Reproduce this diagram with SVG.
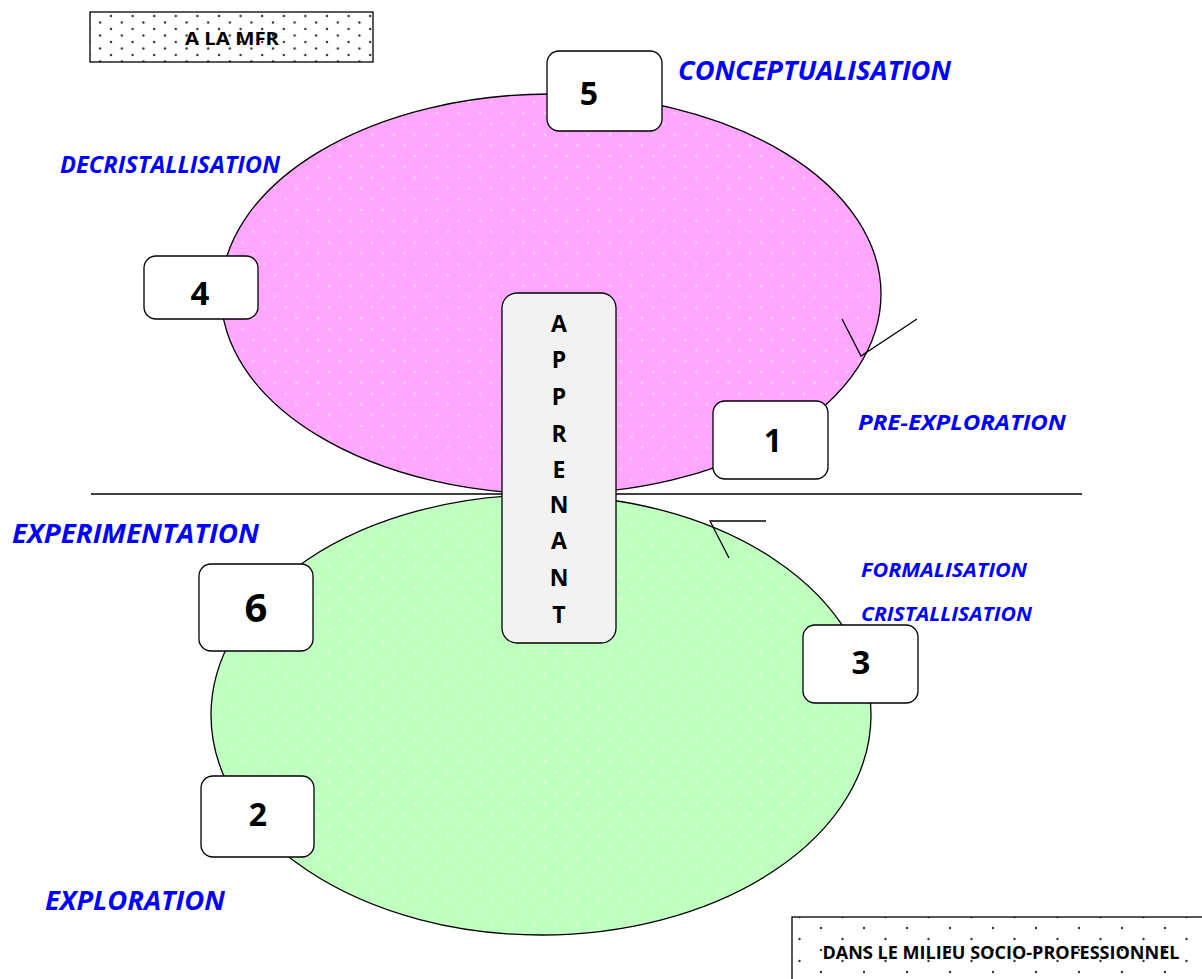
<svg xmlns="http://www.w3.org/2000/svg" width="1202" height="979" viewBox="0 0 1202 979">
<defs>
<pattern id="pinkDots" x="0" y="0" width="21.6" height="21.6" patternUnits="userSpaceOnUse">
<rect width="21.6" height="21.6" fill="#ffa6ff"/>
<circle cx="5" cy="5" r="1.3" fill="#ffd2ff"/>
<circle cx="15.8" cy="15.8" r="1.3" fill="#ffd2ff"/>
</pattern>
<pattern id="greenDots" x="0" y="0" width="21.6" height="21.6" patternUnits="userSpaceOnUse">
<rect width="21.6" height="21.6" fill="#bfffbf"/>
<circle cx="5" cy="5" r="1.3" fill="#dcffdc"/>
<circle cx="15.8" cy="15.8" r="1.3" fill="#dcffdc"/>
</pattern>
<pattern id="denseDots" x="0" y="0" width="21.6" height="13" patternUnits="userSpaceOnUse">
<rect width="21.6" height="13" fill="#ffffff"/>
<circle cx="3" cy="3" r="1.2" fill="#333"/>
<circle cx="13.8" cy="9.5" r="1.2" fill="#333"/>
</pattern>
<pattern id="sparseDots" x="0" y="0" width="43" height="22" patternUnits="userSpaceOnUse">
<rect width="43" height="22" fill="#ffffff"/>
<circle cx="4" cy="4" r="1.2" fill="#333"/>
<circle cx="25.5" cy="15" r="1.2" fill="#333"/>
</pattern>
</defs>
<style>
.lbl{font-family:"Open Sans","Noto Sans",sans-serif;font-weight:bold;font-style:italic;fill:#0000ff}
.num{font-family:"Open Sans","Noto Sans",sans-serif;font-weight:bold;fill:#000;text-anchor:middle}
.box{fill:#fff;stroke:#000;stroke-width:1.3}
.ln{fill:none;stroke:#000;stroke-width:1.3}
.tag{font-family:"Open Sans","Noto Sans",sans-serif;font-weight:bold;fill:#000;text-anchor:middle}
</style>

<g id="ellipse-top"><ellipse cx="551" cy="294" rx="330" ry="200" fill="url(#pinkDots)" stroke="#000" stroke-width="1.3"/></g>
<g id="ellipse-bottom"><ellipse cx="541" cy="715" rx="330" ry="220" fill="url(#greenDots)" stroke="#000" stroke-width="1.3"/></g>

<g id="connectors">
<line class="ln" x1="91" y1="494" x2="1082" y2="494"/>
<polyline class="ln" points="842,319 861,356 917,319"/>
<polyline class="ln" points="766,521 710,521 729,558"/>
</g>

<g id="tag-mfr">
<rect x="90" y="12" width="283" height="50" fill="url(#denseDots)" stroke="#000" stroke-width="1.3"/>
<text class="tag" x="232" y="45" font-size="18" textLength="94" lengthAdjust="spacingAndGlyphs">A LA MFR</text>
</g>
<g id="tag-milieu">
<rect x="792" y="917" width="420" height="70" fill="url(#sparseDots)" stroke="#000" stroke-width="1.3"/>
<text class="tag" x="1001" y="959" font-size="17" textLength="357" lengthAdjust="spacingAndGlyphs">DANS LE MILIEU SOCIO-PROFESSIONNEL</text>
</g>

<g id="labels">
<text class="lbl" x="678" y="80" font-size="26" textLength="273" lengthAdjust="spacingAndGlyphs">CONCEPTUALISATION</text>
<text class="lbl" x="60" y="173" font-size="23" textLength="220" lengthAdjust="spacingAndGlyphs">DECRISTALLISATION</text>
<text class="lbl" x="858" y="430" font-size="22" textLength="208" lengthAdjust="spacingAndGlyphs">PRE-EXPLORATION</text>
<text class="lbl" x="12" y="543" font-size="27" textLength="247" lengthAdjust="spacingAndGlyphs">EXPERIMENTATION</text>
<text class="lbl" x="861" y="577" font-size="19" textLength="166" lengthAdjust="spacingAndGlyphs">FORMALISATION</text>
<text class="lbl" x="861" y="621" font-size="20" textLength="171" lengthAdjust="spacingAndGlyphs">CRISTALLISATION</text>
<text class="lbl" x="45" y="910" font-size="26" textLength="180" lengthAdjust="spacingAndGlyphs">EXPLORATION</text>
</g>

<g id="node-5"><rect class="box" x="547" y="51" width="115" height="80" rx="12"/><text class="num" x="589" y="105" font-size="32">5</text></g>
<g id="node-4"><rect class="box" x="144" y="256" width="114" height="63" rx="12"/><text class="num" x="200" y="305" font-size="33">4</text></g>
<g id="node-1"><rect class="box" x="713" y="401" width="115" height="78" rx="12"/><text class="num" x="773" y="452" font-size="32">1</text></g>
<g id="node-6"><rect class="box" x="199" y="564" width="114" height="87" rx="12"/><text class="num" x="256" y="622" font-size="40">6</text></g>
<g id="node-3"><rect class="box" x="803" y="625" width="115" height="78" rx="12"/><text class="num" x="861" y="674" font-size="33">3</text></g>
<g id="node-2"><rect class="box" x="201" y="776" width="113" height="81" rx="12"/><text class="num" x="258" y="826" font-size="32">2</text></g>

<g id="node-apprenant">
<rect x="502" y="293" width="114" height="350" rx="15" fill="#f2f2f2" stroke="#000" stroke-width="1.3"/>
<g class="num" font-size="23">
<text x="559" y="332">A</text>
<text x="559" y="368">P</text>
<text x="559" y="405">P</text>
<text x="559" y="442">R</text>
<text x="559" y="478">E</text>
<text x="559" y="513">N</text>
<text x="559" y="549">A</text>
<text x="559" y="586">N</text>
<text x="559" y="623">T</text>
</g>
</g>
</svg>
